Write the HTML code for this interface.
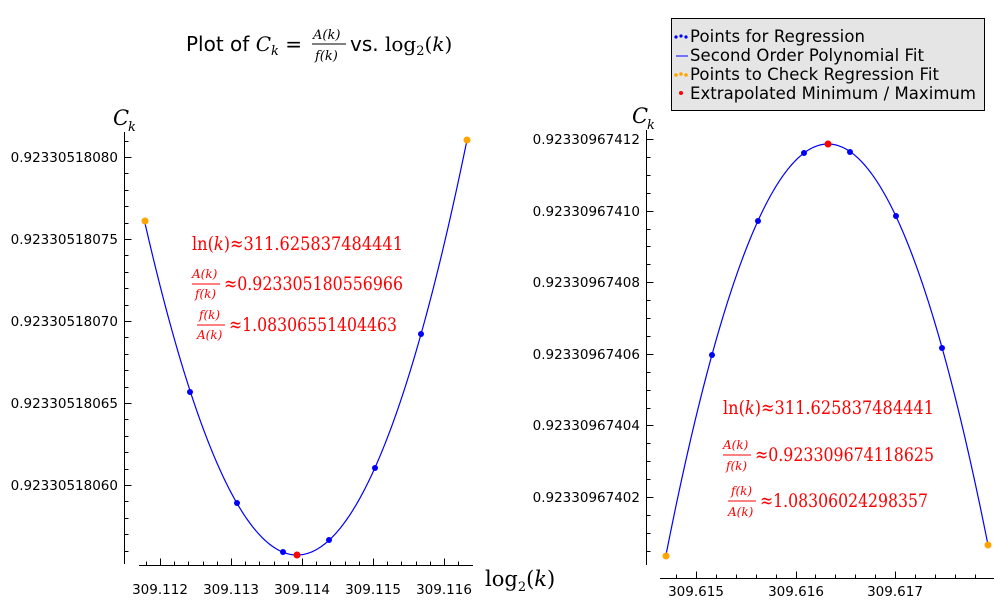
<!DOCTYPE html>
<html><head><meta charset="utf-8"><style>
body{margin:0;background:#fff}
svg{display:block}
.t{font-family:"DejaVu Sans","Liberation Sans",sans-serif;font-size:13.5px;fill:#000}
.m{font-family:"DejaVu Serif","Liberation Serif",serif;fill:#f00}
.mi{font-family:"DejaVu Serif","Liberation Serif",serif;font-style:italic}
</style></head><body>
<svg width="1005" height="600" viewBox="0 0 1005 600" xmlns="http://www.w3.org/2000/svg">
<text x="186" y="51" font-family="DejaVu Sans,Liberation Sans,sans-serif" font-size="20">Plot of <tspan class="mi">C</tspan><tspan class="mi" font-size="13" dy="4">k</tspan><tspan dy="-4"> =</tspan></text>
<text x="313" y="39" class="mi" font-size="13" font-family="DejaVu Serif,serif">A(k)</text>
<line x1="312" y1="44" x2="346" y2="44" stroke="#000" stroke-width="1"/>
<text x="315" y="60" class="mi" font-size="13" font-family="DejaVu Serif,serif">f(k)</text>
<text x="350" y="51" font-family="DejaVu Sans,Liberation Sans,sans-serif" font-size="20">vs. <tspan font-family="DejaVu Serif,serif">log</tspan><tspan font-family="DejaVu Serif,serif" font-size="13" dy="4">2</tspan><tspan font-family="DejaVu Serif,serif" dy="-4">(</tspan><tspan class="mi">k</tspan><tspan font-family="DejaVu Serif,serif">)</tspan></text>

<rect x="671.5" y="18.5" width="313" height="92" fill="#e5e5e5" stroke="#000"/>
<g font-family="DejaVu Sans,Liberation Sans,sans-serif" font-size="16.5">
<circle cx="676" cy="37" r="1.6" fill="#00f"/><circle cx="681" cy="36" r="1.6" fill="#00f"/><circle cx="686" cy="37" r="1.6" fill="#00f"/>
<text x="690" y="42" textLength="175">Points for Regression</text>
<line x1="676" y1="56" x2="688" y2="56" stroke="#00f"/>
<text x="690" y="61" textLength="234">Second Order Polynomial Fit</text>
<circle cx="676" cy="75" r="1.8" fill="orange"/><circle cx="681" cy="74" r="1.8" fill="orange"/><circle cx="686" cy="75" r="1.8" fill="orange"/>
<text x="690" y="80" textLength="249">Points to Check Regression Fit</text>
<circle cx="681" cy="93" r="2" fill="#f00"/>
<text x="690" y="99" textLength="286">Extrapolated Minimum / Maximum</text>
</g>

<g stroke="#000" stroke-width="1">
<line x1="124.5" y1="132" x2="124.5" y2="564"/>
<line x1="139" y1="565.5" x2="473" y2="565.5"/>
</g>
<g class="t" text-anchor="end">
<text x="118" y="162">0.92330518080</text>
<text x="118" y="244">0.92330518075</text>
<text x="118" y="326">0.92330518070</text>
<text x="118" y="408">0.92330518065</text>
<text x="118" y="490">0.92330518060</text>
</g>
<g class="t" text-anchor="middle">
<text x="160" y="594">309.112</text>
<text x="231" y="594">309.113</text>
<text x="302" y="594">309.114</text>
<text x="373" y="594">309.115</text>
<text x="444" y="594">309.116</text>
</g>
<text x="113" y="125" class="mi" font-size="21">C</text><text x="128" y="131" class="mi" font-size="13">k</text>
<text x="485" y="586" font-family="DejaVu Serif,serif" font-size="21">log<tspan font-size="13" dy="5">2</tspan><tspan dy="-5">(</tspan><tspan font-style="italic">k</tspan>)</text>

<g stroke="#000" stroke-width="1">
<line x1="646.5" y1="130" x2="646.5" y2="565"/>
<line x1="660" y1="578.5" x2="994" y2="578.5"/>
</g>
<g class="t" text-anchor="end">
<text x="640" y="144">0.92330967412</text>
<text x="640" y="216">0.92330967410</text>
<text x="640" y="287">0.92330967408</text>
<text x="640" y="359">0.92330967406</text>
<text x="640" y="430">0.92330967404</text>
<text x="640" y="502">0.92330967402</text>
</g>
<g class="t" text-anchor="middle">
<text x="696" y="596">309.615</text>
<text x="796" y="596">309.616</text>
<text x="895" y="596">309.617</text>
</g>
<text x="632" y="123" class="mi" font-size="21">C</text><text x="647" y="129" class="mi" font-size="13">k</text>

<g id="ticks" stroke="#000" stroke-width="1"></g>

<path id="c1" fill="none" stroke="#00f" stroke-width="1.2"/>
<path id="c2" fill="none" stroke="#00f" stroke-width="1.2"/>
<g fill="#00f">
<circle cx="190" cy="392" r="3"/><circle cx="237" cy="503" r="3"/><circle cx="283" cy="552" r="3"/>
<circle cx="329" cy="540" r="3"/><circle cx="375" cy="468" r="3"/><circle cx="421" cy="334" r="3"/>
<circle cx="712" cy="355" r="3"/><circle cx="758" cy="221" r="3"/><circle cx="804" cy="153" r="3"/>
<circle cx="850" cy="152" r="3"/><circle cx="896" cy="216" r="3"/><circle cx="942" cy="348" r="3"/>
</g>
<g fill="orange">
<circle cx="145" cy="221" r="3.5"/><circle cx="467" cy="140" r="3.5"/>
<circle cx="666" cy="556" r="3.5"/><circle cx="988" cy="545" r="3.5"/>
</g>
<g fill="#f00"><circle cx="297" cy="555" r="3.5"/><circle cx="828" cy="144" r="3.5"/></g>

<g class="m" font-size="19">
<text x="192" y="250" textLength="211" lengthAdjust="spacingAndGlyphs">ln(<tspan font-style="italic">k</tspan>)≈311.625837484441</text>
<text x="192" y="278" font-size="12" font-style="italic">A(k)</text>
<line x1="192" y1="284" x2="220" y2="284" stroke="#f00"/>
<text x="195" y="298" font-size="12" font-style="italic">f(k)</text>
<text x="224" y="290" textLength="179" lengthAdjust="spacingAndGlyphs">≈0.923305180556966</text>
<text x="199" y="319" font-size="12" font-style="italic">f(k)</text>
<line x1="197" y1="325" x2="225" y2="325" stroke="#f00"/>
<text x="197" y="339" font-size="12" font-style="italic">A(k)</text>
<text x="229" y="331" textLength="168" lengthAdjust="spacingAndGlyphs">≈1.08306551404463</text>
</g>
<g class="m" font-size="19">
<text x="723" y="414" textLength="211" lengthAdjust="spacingAndGlyphs">ln(<tspan font-style="italic">k</tspan>)≈311.625837484441</text>
<text x="723" y="449" font-size="12" font-style="italic">A(k)</text>
<line x1="723" y1="455" x2="751" y2="455" stroke="#f00"/>
<text x="726" y="470" font-size="12" font-style="italic">f(k)</text>
<text x="755" y="461" textLength="179" lengthAdjust="spacingAndGlyphs">≈0.923309674118625</text>
<text x="731" y="495" font-size="12" font-style="italic">f(k)</text>
<line x1="728" y1="501" x2="756" y2="501" stroke="#f00"/>
<text x="728" y="516" font-size="12" font-style="italic">A(k)</text>
<text x="760" y="507" textLength="168" lengthAdjust="spacingAndGlyphs">≈1.08306024298357</text>
</g>
</svg>
<script>
var ns="http://www.w3.org/2000/svg",g=document.getElementById('ticks');
function L(x1,y1,x2,y2){var l=document.createElementNS(ns,'line');l.setAttribute('x1',x1);l.setAttribute('y1',y1);l.setAttribute('x2',x2);l.setAttribute('y2',y2);g.appendChild(l);}
for(var i=-1;i<26;i++){var y=157+i*16.4;if(y<134||y>562)continue;var maj=(i%5==0);L(124.5,Math.round(y)+.5,124.5+(maj?7:4),Math.round(y)+.5);}
for(var i=-2;i<30;i++){var x=160+i*14.2;if(x<141||x>471)continue;var maj=(i%5==0);L(Math.round(x)+.5,565.5,Math.round(x)+.5,565.5-(maj?7:4));}
for(var i=0;i<30;i++){var y=139+i*17.9;if(y>563)continue;var maj=(i%4==0);L(646.5,Math.round(y)+.5,646.5+(maj?7:4),Math.round(y)+.5);}
for(var i=-3;i<30;i++){var x=696+i*19.9;if(x<662||x>992)continue;var maj=(i%5==0);L(Math.round(x)+.5,578.5,Math.round(x)+.5,578.5-(maj?7:4));}
function P(id,x0,x1,vx,vy,a){var d='';for(var x=x0;x<=x1;x+=1){d+=(d?'L':'M')+x+' '+(vy+a*(x-vx)*(x-vx)).toFixed(2);}document.getElementById(id).setAttribute('d',d);}
P('c1',145,467,297,555,-0.01436);
P('c2',666,988,828,144,0.01566);
</script>
</body></html>
